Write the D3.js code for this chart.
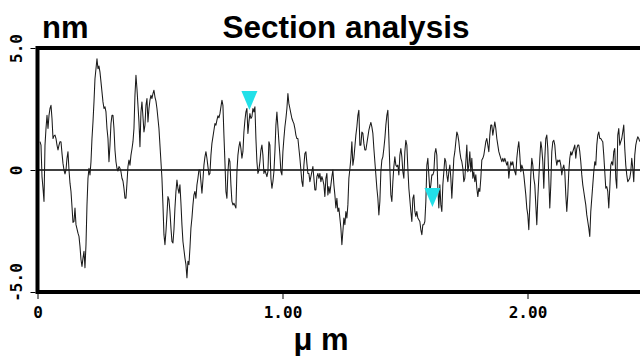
<!DOCTYPE html>
<html><head><meta charset="utf-8">
<script src="https://cdn.jsdelivr.net/npm/d3@7"></script>
<style>html,body{margin:0;padding:0;background:#fff;overflow:hidden}</style>
</head><body>
<svg id="c" width="640" height="356"></svg>
<script>
// ---- data ----
const title = "Section analysis";
const yUnit = "nm";
const xUnit = "\u03bc m";
const xTicks = [0, 1, 2];
const xTickLabels = ["0", "1.00", "2.00"];
const yTicks = [5, 0, -5];
const yTickLabels = ["5.0", "0", "-5.0"];
const xDomain = [0, 2.5];
const yDomain = [-5, 5];
const firstX = 0.0102;      // µm, first profile sample
const sampleStep = 0.00408; // µm between profile samples
// height profile (nm), uniformly sampled along the section
const heights = [
 1.16,1.02,-0.27,-0.75,-1.29,1.02,1.70,2.24,1.70,2.24,2.52,2.65,2.11,1.29,1.40,1.43,1.29,1.02,0.82,1.02,1.16,1.16,0.68,0.27,0,-0.16,0,0.48,0.75,0,-0.54,-0.88,-1.50,-2.15,-2.11,-1.56,-2.24,-2.41,-2.59,-2.72,-3.13,-3.67,-3.95,-3.61,-3.33,-4.01,-3.06,-1.43,-0.34,0.07,-0.20,0.34,1.29,1.97,2.79,3.74,4.15,4.56,4.15,4.26,4.01,3.61,3.20,2.79,2.52,2.59,2.38,1.70,1.29,0.34,1.02,1.90,2.24,2.24,1.70,0.82,0.34,0.07,-0.04,0.14,0.07,-0.07,-0.34,-0.45,-0.75,-1.16,-1.16,-0.54,0.14,0.41,0.20,0.61,0.86,1.16,1.70,3.06,
 3.88,3.33,2.65,1.97,0.95,2.38,2.79,2.18,1.56,1.84,2.65,2.93,1.97,2.52,2.86,3.06,2.93,3.13,3.27,2.99,2.82,2.52,2.11,1.70,1.02,0.34,-0.34,-1.43,-2.65,-3.06,-2.52,-1.84,-1.09,-1.22,-1.70,-2.38,-2.93,-2.99,-2.45,-1.56,-0.88,-0.41,-0.75,-0.95,-0.61,-1.36,-2.24,-2.93,-3.27,-3.61,-3.88,-4.42,-3.74,-3.88,-3.20,-2.38,-1.97,-1.43,-1.02,-0.88,-1.16,-0.61,-0.34,0,0,-0.48,-0.95,-0.41,0.20,0.54,0.75,0.48,0.14,-0.20,-0.14,0.61,1.09,1.36,1.63,1.90,1.84,2.04,2.22,2.14,2.31,2.59,2.86,2.65,1.43,0.34,-0.88,-1.16,-0.07,0.48,0.34,-0.61,-1.29,-1.43,-1.36,-1.46,
 -1.56,-0.07,0.61,0.95,1.16,0.88,0.48,0.75,1.56,2.04,2.38,2.52,1.50,1.97,2.31,2.11,2.18,2.52,2.38,2.59,1.29,0.34,-0.14,0,0.34,0.82,1.02,0.61,-0.14,0,-0.14,-0.27,-0.07,1.16,1.02,-0.34,-0.75,-0.48,-0.07,0.75,1.84,2.38,1.77,1.16,0.61,-0.07,-0.20,0.75,1.29,1.77,2.11,2.52,3.13,2.72,2.52,2.31,2.11,2.00,1.90,1.70,1.43,1.29,1.29,0.88,0.48,0,-0.48,-0.68,0.20,0.68,0.75,0.27,-0.14,-0.14,-0.48,-0.27,-0.07,0.14,-0.34,-0.82,-0.82,-0.27,-0.14,-0.34,-0.14,-0.48,-0.27,-0.41,-0.61,-1.09,-0.34,-0.14,-1.02,-0.68,-0.95,-0.61,-0.27,0,-0.61,-1.02,
 -1.56,-1.16,-1.70,-1.56,-1.97,-2.38,-3.06,-2.52,-1.97,-2.24,-1.70,-1.97,-1.43,-0.34,0.04,0.48,1.16,0.20,0.48,0.95,1.43,1.77,2.24,2.45,1.02,1.02,1.56,1.50,1.09,0.82,0.82,1.09,1.36,1.63,1.81,1.95,1.77,1.50,0.88,0.34,-0.20,-0.75,-1.16,-1.84,-1.29,-0.07,0.41,0.54,0.88,1.29,1.84,2.24,2.45,1.29,0.07,-1.02,-1.29,-0.48,0.14,0.54,0.20,0.14,0.20,-0.20,0.61,0.88,0.54,-0.07,-0.34,0.75,1.22,1.02,0.07,-0.75,-1.22,-1.70,-2.11,-1.16,-1.02,-1.70,-1.90,-1.70,-1.97,-2.04,-2.11,-2.45,-2.65,-2.24,-2.24,-2.11,-1.29,0.20,0.48,-0.20,-0.88,-0.61,-0.20,-0.20,-0.07,0.68,
 0.88,0.61,-0.75,-1.56,-0.61,-1.43,-1.70,-0.61,-0.07,0.48,0.34,-0.20,-0.48,-0.07,0.20,-0.34,-1.16,-0.34,0.48,0.75,1.16,1.56,1.43,1.16,0.75,0.48,0.34,0.07,-0.48,-0.34,0.34,1.02,-0.07,0.20,0.75,-0.07,0.48,-0.34,-0.07,-0.48,-0.20,-0.75,-1.09,-0.75,-0.88,-0.34,0.41,0.48,0.61,0.88,1.16,1.29,1.02,0.75,1.43,1.84,1.84,1.43,1.70,1.97,1.70,1.29,1.02,0.75,0.61,0.48,0.34,0.48,0.34,0.48,0.34,0.20,0.34,-0.34,0.07,0.34,0.20,0.34,0.07,-0.07,-0.20,0.48,0.88,1.16,0.61,-0.07,0.20,0.07,-0.20,-0.61,-1.02,-1.56,-1.84,-2.45,-1.43,-0.20,0.48,0.20,-0.34,-0.61,
 -1.43,-2.24,-1.16,-0.34,0.48,1.16,0.88,0.34,-0.75,0.48,1.29,1.43,0.88,-0.34,-1.56,-0.61,0.75,1.16,1.22,1.02,0.48,0.20,0.41,0.34,0.41,0.20,-0.20,0.07,0.20,-0.07,-1.02,-1.70,-1.02,-0.07,0.48,0.75,0.61,0.75,0.88,1.02,0.48,0.88,1.02,1.02,0.75,0.34,-0.20,-0.61,-0.88,-1.16,-1.43,-1.84,-2.11,-2.38,-2.72,-1.70,-1.16,-0.61,-0.07,0.34,0.20,1.02,1.43,1.56,1.29,1.29,1.22,1.16,0.61,-0.07,-0.75,-0.68,-0.88,-1.56,-0.75,0.20,0.34,0.20,0.75,0.88,-0.34,-0.75,1.43,1.70,1.02,1.16,1.29,1.56,1.84,0.88,0.20,-0.20,-0.48,-0.41,-0.34,-0.07,0.48,0.07,-0.48,0.61,1.02,1.22,1.36,1.29,1.16
];
const markerX = [0.865, 1.612];
const markerY = [2.46, -1.52];

// ---- drawing ----
const svg = d3.select("#c");
const x = d3.scaleLinear().domain(xDomain).range([37.5, 650]);
const y = d3.scaleLinear().domain(yDomain).range([292, 48]);

const profile = heights.map((h, i) => ({x: firstX + i * sampleStep, z: h}));

svg.append("rect").attr("width", 640).attr("height", 356).attr("fill", "#fff");

// zero line
svg.append("line").attr("x1", x(0)).attr("x2", 650).attr("y1", y(0)).attr("y2", y(0))
  .attr("stroke", "#000").attr("stroke-width", 1.6);

// profile
svg.append("path").datum(profile)
  .attr("d", d3.line().x(d => x(d.x)).y(d => y(d.z)))
  .attr("fill", "none").attr("stroke", "#1a1a1a").attr("stroke-width", 1.05)
  .attr("stroke-linejoin", "round");

// frame
svg.append("rect").attr("x", x(0)).attr("y", y(5)).attr("width", 660 - x(0)).attr("height", y(-5) - y(5))
  .attr("fill", "none").attr("stroke", "#000").attr("stroke-width", 4);

// axes (ticks + labels)
const monoFont = "'DejaVu Sans Mono', monospace";
const xAxis = d3.axisBottom(x).tickValues(xTicks).tickSize(5).tickSizeOuter(0)
  .tickFormat((d, i) => xTickLabels[i]);
const gx = svg.append("g").attr("transform", `translate(0,${y(-5) + 2})`).call(xAxis);
gx.select(".domain").remove();
gx.selectAll("line").attr("stroke", "#000").attr("stroke-width", 1);
gx.selectAll("text").attr("dy", 0).attr("y", 24)
  .style("font-family", monoFont).style("font-weight", "bold")
  .style("font-size", "16px").attr("fill", "#000");

const yAxis = d3.axisLeft(y).tickValues(yTicks).tickSize(5).tickSizeOuter(0)
  .tickFormat((d, i) => yTickLabels[i]);
const gy = svg.append("g").attr("transform", `translate(${x(0) - 2},0)`).call(yAxis);
gy.select(".domain").remove();
gy.selectAll("line").attr("stroke", "#000").attr("stroke-width", 1);
gy.selectAll("text")
  .attr("x", null).attr("dy", null)
  .attr("text-anchor", "middle")
  .attr("transform", d => `translate(-14,${d < 0 ? -10 : 0}) rotate(-90)`)
  .style("font-family", monoFont).style("font-weight", "bold")
  .style("font-size", "16px").attr("fill", "#000");

// markers (downward triangles whose tips sit on the profile)
svg.selectAll(".mk").data(markerX.map((v, i) => ({x: v, z: markerY[i]})))
  .enter().append("path")
  .attr("d", "M-8,-19L8,-19L0,0Z")
  .attr("transform", d => `translate(${x(d.x)},${y(d.z)})`)
  .attr("fill", "#22e0e8");

// titles
const sansFont = "'Liberation Sans', Arial, sans-serif";
svg.append("text").attr("x", 346).attr("y", 38).attr("text-anchor", "middle")
  .style("font-family", sansFont).style("font-weight", "bold")
  .style("font-size", "31.5px").text(title);
svg.append("text").attr("x", 42).attr("y", 38)
  .style("font-family", sansFont).style("font-weight", "bold")
  .style("font-size", "31px").text(yUnit);
svg.append("text").attr("x", 321).attr("y", 350).attr("text-anchor", "middle")
  .style("font-family", sansFont).style("font-weight", "bold")
  .style("font-size", "31px").text(xUnit);
</script>
</body></html>
